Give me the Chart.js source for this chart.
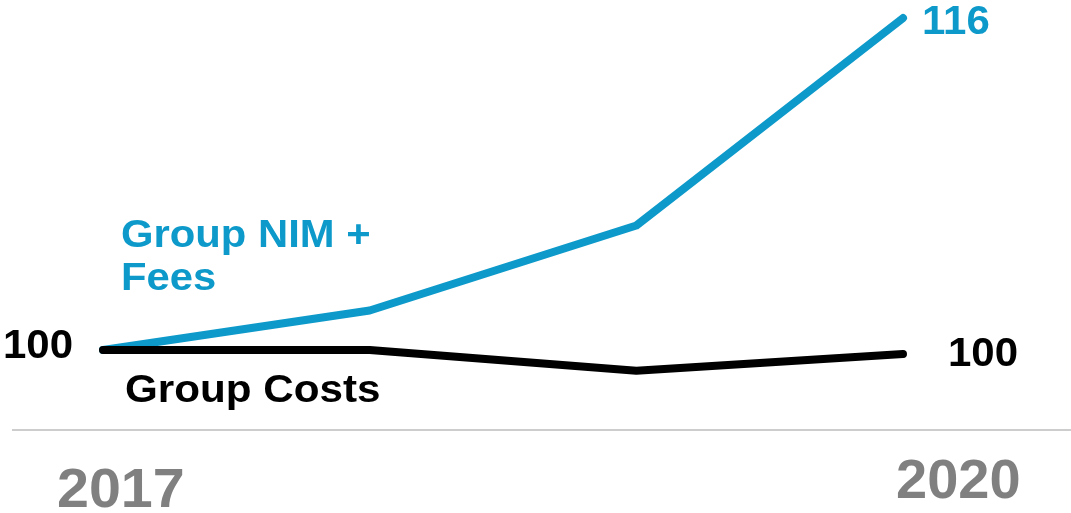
<!DOCTYPE html>
<html>
<head>
<meta charset="utf-8">
<script src="https://cdn.jsdelivr.net/npm/chart.js@4"></script>
<style>
  html, body { margin: 0; padding: 0; background: #ffffff; }
  #wrap { width: 1071px; height: 513px; position: relative; }
</style>
</head>
<body>
<div id="wrap"><canvas id="chart" width="1071" height="513"></canvas></div>
<script>
// Index values, 2017 = 100
const years = ['2017', '2018', '2019', '2020'];
const nimFees = [100, 101.9, 106, 116];
const groupCosts = [100, 100, 99, 99.8];

const BLUE = '#0d9aca';
const BLACK = '#000000';
const GREY = '#808080';
const FONT = '"Liberation Sans", Arial, sans-serif';

// Draws text with a slight horizontal stretch; align is 'left' or 'right'
function wideText(ctx, text, x, y, sx, align) {
  ctx.save();
  ctx.translate(x, y);
  ctx.scale(sx, 1);
  ctx.textAlign = align || 'left';
  ctx.fillText(text, 0, 0);
  ctx.restore();
}

const annotations = {
  id: 'annotations',
  afterDraw(chart) {
    const ctx = chart.ctx;
    const blue = chart.getDatasetMeta(0).data;
    const black = chart.getDatasetMeta(1).data;
    const first = black[0];
    const lastBlue = blue[blue.length - 1];
    const lastBlack = black[black.length - 1];

    ctx.save();
    // baseline rule
    ctx.strokeStyle = '#bdbdbd';
    ctx.lineWidth = 1.5;
    ctx.beginPath();
    ctx.moveTo(12, 430);
    ctx.lineTo(1071, 430);
    ctx.stroke();

    ctx.textBaseline = 'alphabetic';
    ctx.font = 'bold 40px ' + FONT;

    // start value
    ctx.fillStyle = BLACK;
    wideText(ctx, String(Math.round(groupCosts[0])), first.x - 30, first.y + 8, 1.05, 'right');

    // end values
    wideText(ctx, String(Math.round(groupCosts[groupCosts.length - 1])), lastBlack.x + 45, lastBlack.y + 12, 1.05, 'left');
    ctx.fillStyle = BLUE;
    wideText(ctx, String(Math.round(nimFees[nimFees.length - 1])), lastBlue.x + 19, lastBlue.y + 16, 1.05, 'left');

    // series names
    ctx.font = 'bold 38px ' + FONT;
    ctx.fillStyle = BLUE;
    wideText(ctx, 'Group NIM +', 121, 247, 1.1, 'left');
    wideText(ctx, 'Fees', 121, 290, 1.1, 'left');
    ctx.fillStyle = BLACK;
    wideText(ctx, 'Group Costs', 125, 402, 1.11, 'left');

    // period labels
    ctx.font = 'bold 56px ' + FONT;
    ctx.fillStyle = GREY;
    wideText(ctx, years[0], 57, 507, 1.025, 'left');
    wideText(ctx, years[years.length - 1], 896, 498, 1.0, 'left');
    ctx.restore();
  }
};

new Chart(document.getElementById('chart'), {
  type: 'line',
  data: {
    labels: years,
    datasets: [
      {
        label: 'Group NIM + Fees',
        data: nimFees,
        borderColor: BLUE,
        borderWidth: 8,
        borderCapStyle: 'round',
        borderJoinStyle: 'round',
        pointRadius: 0,
        tension: 0,
        clip: false,
        order: 1
      },
      {
        label: 'Group Costs',
        data: groupCosts,
        borderColor: BLACK,
        borderWidth: 8,
        borderCapStyle: 'round',
        borderJoinStyle: 'round',
        pointRadius: 0,
        tension: 0,
        clip: false,
        order: 0
      }
    ]
  },
  options: {
    responsive: false,
    animation: false,
    layout: { padding: { left: 103, right: 168, top: 0, bottom: 0 } },
    plugins: { legend: { display: false }, tooltip: { enabled: false } },
    scales: {
      x: { type: 'category', display: false, offset: false },
      y: { display: false, min: 92.14, max: 116.87 }
    }
  },
  plugins: [annotations]
});
</script>
</body>
</html>
